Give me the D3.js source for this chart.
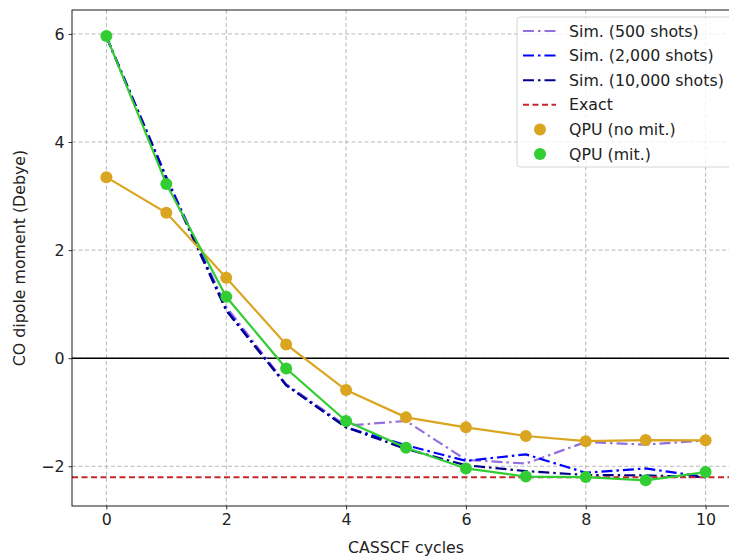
<!DOCTYPE html>
<html>
<head>
<meta charset="utf-8">
<script src="https://cdn.jsdelivr.net/npm/d3@7"></script>
<style>
  body { margin: 0; background: #fff; }
  svg text { font-family: "DejaVu Sans", sans-serif; fill: #222; }
</style>
</head>
<body>
<div id="chart"></div>
<script>
// CASSCF cycle index
var cycles = [0, 1, 2, 3, 4, 5, 6, 7, 8, 9, 10];

// simulated dipole moments (Debye)
var sim500   = [5.95, 3.35, 0.95, -0.48, -1.25, -1.16, -1.88, -1.95, -1.55, -1.6, -1.52];
var sim2000  = [5.95, 3.35, 0.9, -0.5, -1.28, -1.61, -1.9, -1.78, -2.12, -2.04, -2.2];
var sim10000 = [5.95, 3.3, 0.88, -0.5, -1.28, -1.68, -1.98, -2.09, -2.16, -2.17, -2.2];

// hardware runs
var qpuNoMit = [3.35, 2.69, 1.49, 0.255, -0.59, -1.095, -1.28, -1.44, -1.535, -1.515, -1.52];
var qpuMit   = [5.96, 3.225, 1.136, -0.19, -1.163, -1.657, -2.04, -2.19, -2.2, -2.26, -2.107];

var exactValue = -2.205;

var yTicks = [-2, 0, 2, 4, 6];
var xTicks = [0, 2, 4, 6, 8, 10];

var width = 729, height = 558;
var margin = {top: 10, left: 72, bottom: 52, right: -11};
var fontSize = 15.8;

var svg = d3.select("#chart").append("svg")
    .attr("width", width)
    .attr("height", height);

var x = d3.scaleLinear()
    .domain([-0.574, 10.574])
    .range([margin.left, width - margin.right]);

var y = d3.scaleLinear()
    .domain([-2.735, 6.443])
    .range([height - margin.bottom, margin.top]);

var plot = svg.append("g");

// grid
plot.selectAll(".vgrid").data(xTicks).enter().append("line")
    .attr("x1", d => x(d)).attr("x2", d => x(d))
    .attr("y1", y.range()[1]).attr("y2", y.range()[0])
    .attr("stroke", "#b8b8b8").attr("stroke-width", 1)
    .attr("stroke-dasharray", "4,2.5");
plot.selectAll(".hgrid").data(yTicks).enter().append("line")
    .attr("y1", d => y(d)).attr("y2", d => y(d))
    .attr("x1", x.range()[0]).attr("x2", x.range()[1])
    .attr("stroke", "#b8b8b8").attr("stroke-width", 1)
    .attr("stroke-dasharray", "4,2.5");

// zero line
plot.append("line")
    .attr("x1", x.range()[0]).attr("x2", x.range()[1])
    .attr("y1", y(0)).attr("y2", y(0))
    .attr("stroke", "#000").attr("stroke-width", 1.6);

var line = d3.line()
    .x((d, i) => x(cycles[i]))
    .y(d => y(d));

var dashDot = "11,4,2.5,4";

var simSeries = [
    {name: "Sim. (500 shots)", values: sim500, color: "#9370DB"},
    {name: "Sim. (2,000 shots)", values: sim2000, color: "#0000FF"},
    {name: "Sim. (10,000 shots)", values: sim10000, color: "#00008B"}
];

simSeries.forEach(function(s) {
    plot.append("path")
        .attr("d", line(s.values))
        .attr("fill", "none")
        .attr("stroke", s.color)
        .attr("stroke-width", 2.2)
        .attr("stroke-dasharray", dashDot);
});

// exact value
plot.append("line")
    .attr("x1", x.range()[0]).attr("x2", x.range()[1])
    .attr("y1", y(exactValue)).attr("y2", y(exactValue))
    .attr("stroke", "#C62828").attr("stroke-width", 2)
    .attr("stroke-dasharray", "6,3.5");

var qpuSeries = [
    {name: "QPU (no mit.)", values: qpuNoMit, color: "#DAA520"},
    {name: "QPU (mit.)", values: qpuMit, color: "#32CD32"}
];

qpuSeries.forEach(function(s) {
    plot.append("path")
        .attr("d", line(s.values))
        .attr("fill", "none")
        .attr("stroke", s.color)
        .attr("stroke-width", 2.2);
    plot.selectAll(null).data(s.values).enter().append("circle")
        .attr("cx", (d, i) => x(cycles[i]))
        .attr("cy", d => y(d))
        .attr("r", 6)
        .attr("fill", s.color);
});

// axes
var xAxis = d3.axisBottom(x).tickValues(xTicks).tickSize(3.5).tickPadding(4);
var yAxis = d3.axisLeft(y).tickValues(yTicks).tickSize(3.5).tickPadding(4)
    .tickFormat(d => d < 0 ? "\u2212" + Math.abs(d) : d);

var gx = svg.append("g")
    .attr("transform", "translate(0," + (height - margin.bottom) + ")")
    .call(xAxis);
var gy = svg.append("g")
    .attr("transform", "translate(" + margin.left + ",0)")
    .call(yAxis);

[gx, gy].forEach(function(g) {
    g.select(".domain").remove();
    g.selectAll(".tick line").attr("stroke", "#000").attr("stroke-width", 0.8);
    g.selectAll(".tick text").attr("font-size", fontSize)
        .attr("font-family", "DejaVu Sans").attr("fill", "#222");
});

// spines
svg.append("rect")
    .attr("x", x.range()[0]).attr("y", y.range()[1])
    .attr("width", x.range()[1] - x.range()[0])
    .attr("height", y.range()[0] - y.range()[1])
    .attr("fill", "none").attr("stroke", "#000").attr("stroke-width", 0.9);

// axis labels
svg.append("text")
    .attr("x", (x.range()[0] + x.range()[1]) / 2)
    .attr("y", 553)
    .attr("text-anchor", "middle")
    .attr("font-size", fontSize)
    .text("CASSCF cycles");

svg.append("text")
    .attr("transform", "translate(25," + ((y.range()[0] + y.range()[1]) / 2) + ") rotate(-90)")
    .attr("text-anchor", "middle")
    .attr("font-size", fontSize)
    .text("CO dipole moment (Debye)");

// legend
var legend = svg.append("g").attr("transform", "translate(517,17)");
legend.append("rect")
    .attr("width", 226).attr("height", 150)
    .attr("rx", 3)
    .attr("fill", "#fff").attr("fill-opacity", 0.8)
    .attr("stroke", "#ccc").attr("stroke-width", 0.8);

var legendItems = simSeries.map(s => ({name: s.name, color: s.color, kind: "dashdot"}))
    .concat([{name: "Exact", color: "#C62828", kind: "dash"}])
    .concat(qpuSeries.map(s => ({name: s.name, color: s.color, kind: "dot"})));

var rowGap = 24.6;
legendItems.forEach(function(item, i) {
    var cy = 14 + i * rowGap;
    var row = legend.append("g").attr("transform", "translate(0," + cy + ")");
    if (item.kind === "dot") {
        row.append("circle").attr("cx", 23).attr("cy", 0).attr("r", 6).attr("fill", item.color);
    } else {
        row.append("line")
            .attr("x1", 6).attr("x2", 39).attr("y1", 0).attr("y2", 0)
            .attr("stroke", item.color)
            .attr("stroke-width", 2)
            .attr("stroke-dasharray", item.kind === "dash" ? "6,3.5" : dashDot);
    }
    row.append("text")
        .attr("x", 52).attr("y", 0)
        .attr("dy", "0.35em")
        .attr("font-size", fontSize)
        .text(item.name);
});
</script>
</body>
</html>
